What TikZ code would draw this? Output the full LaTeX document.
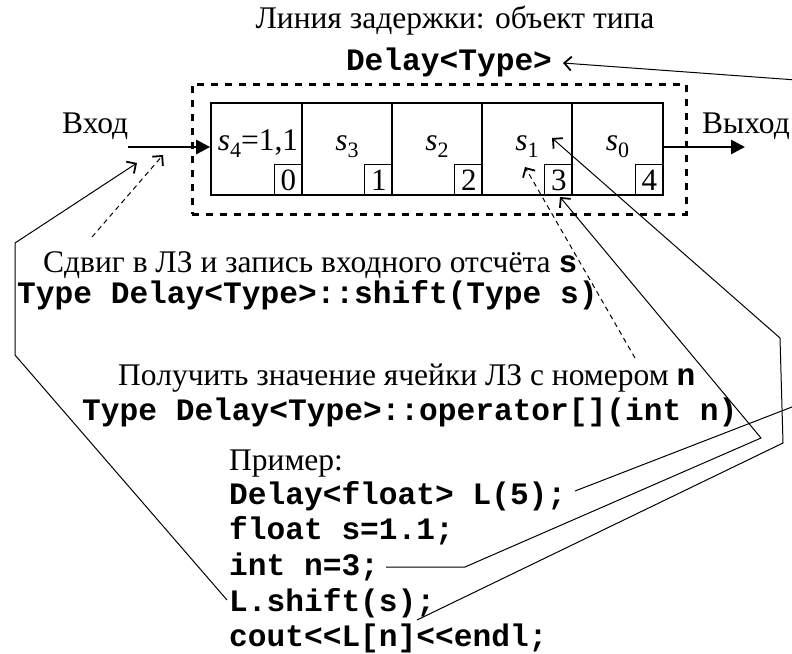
\documentclass[tikz,border=0pt]{standalone}
\usepackage{fontspec}
\setmainfont{Liberation Serif}
\setmonofont{Liberation Mono}
\usetikzlibrary{arrows.meta}
\newcommand{\cd}[1]{{\fontsize{31.2}{36}\selectfont\ttfamily\bfseries #1}}
\newcommand{\sv}[2]{{\itshape s}\raisebox{-7pt}{\fontsize{22}{22}\selectfont #1}#2}
\begin{document}
\begin{tikzpicture}[x=1pt,y=-1pt,
  txt/.style={inner sep=0pt, anchor=base west, font=\fontsize{31.5}{36}\selectfont},
  code/.style={inner sep=0pt, anchor=base west, font=\fontsize{31.2}{36}\selectfont\ttfamily\bfseries},
  cell/.style={draw, line width=2.2pt, minimum width=90.5pt, minimum height=92pt, inner sep=0pt},
  idx/.style={draw, line width=1pt, minimum width=28pt, minimum height=31pt, inner sep=0pt, anchor=south east, font=\fontsize{31}{31}\selectfont},
  lab/.style={inner sep=0pt, anchor=base, font=\fontsize{31.5}{36}\selectfont},
  bigarrow/.style={line width=2.8pt, -{Triangle[length=14pt,width=14pt]}},
  ptr/.style={line width=1pt, -{Straight Barb[length=7pt,width=14pt,line width=1.8pt]}},
  ptrdash/.style={ptr, dash pattern=on 5pt off 4pt},
  frame/.style={draw, line width=3pt, dash pattern=on 7pt off 7pt, minimum width=494pt, minimum height=130pt, inner sep=0pt}]
\useasboundingbox (0,0) rectangle (792,653);
\fill[white] (0,0) rectangle (792,653);

% titles
\node[lab] (t1) at (455,28) {Линия задержки: объект типа};
\node[code, anchor=base] (t2) at (449,70) {Delay<Type>};

% frame and cells
\node[frame] (dl) at (439,149) {};
\node[cell] (c0) at (256.5,149) {};
\node[cell] (c1) at (347,149) {};
\node[cell] (c2) at (437,149) {};
\node[cell] (c3) at (527,149) {};
\node[cell] (c4) at (617.5,149) {};
\node[idx] (n0) at (c0.south east) {0};
\node[idx] (n1) at (c1.south east) {1};
\node[idx] (n2) at (c2.south east) {2};
\node[idx] (n3) at (c3.south east) {3};
\node[idx] (n4) at (c4.south east) {4};
\node[lab] (s4) at (258,150) {\sv{4}{=1,1}};
\node[lab] (s3) at (347,150) {\sv{3}{}};
\node[lab] (s2) at (437,150) {\sv{2}{}};
\node[lab] (s1) at (527,150) {\sv{1}{}};
\node[lab] (s0) at (617.5,150) {\sv{0}{}};

% input / output
\node[txt] (vin) at (62,133) {Вход};
\node[txt] (vout) at (702,133) {Выход};
\coordinate (inS) at (128,147);
\coordinate (outE) at (745,147);
\draw[bigarrow] (inS) -- (c0.west |- inS);
\draw[bigarrow] (c4.east |- outE) -- (outE);

% descriptions
\node[txt] (d1) at (43,272) {Сдвиг в ЛЗ и запись входного отсчёта \cd{s}};
\node[code] (d1c) at (17,303) {Type Delay<Type>::shift(Type s)};
\node[txt] (d2) at (118,385) {Получить значение ячейки ЛЗ с номером \cd{n}};
\node[code] (d2c) at (82,420) {Type Delay<Type>::operator[](int n)};

% example
\node[txt] (ex) at (229,470) {Пример:};
\node[code] (e1) at (229,504) {Delay<float> L(5);};
\node[code] (e2) at (229,539) {float s=1.1;};
\node[code] (e3) at (229,575) {int n=3;};
\node[code] (e4) at (229,611) {L.shift(s);};
\node[code] (e5) at (229,646) {cout<<L[n]<<endl;};

% connector points
\coordinate (l1e) at (575,491);
\coordinate (r1) at (810,400);
\coordinate (r2) at (810,81);
\coordinate (dtip) at (563,63);
\coordinate (n3a) at (386,567);
\coordinate (n3b) at (465,567);
\coordinate (n3c) at (761,438);
\coordinate (t3) at (560,197);
\coordinate (co) at (417,620);
\coordinate (cv1) at (783,443);
\coordinate (cv2) at (780,338);
\coordinate (s1t) at (552,138);
\coordinate (ls) at (227,600);
\coordinate (lv1) at (15,355);
\coordinate (lv2) at (15,243);
\coordinate (intip) at (137,163);
\coordinate (d1s) at (92,237);
\coordinate (d1t) at (163,155);
\coordinate (d2s) at (635,358);
\coordinate (d2t) at (525,167);

\begin{scope}
\clip (0,0) rectangle (792,653);
\draw[ptr] (l1e) -- (r1) -- (r2) -- (dtip);
\end{scope}
\draw[ptr] (n3a) -- (n3b) -- (n3c) -- (t3);
\draw[ptr] (co) -- (cv1) -- (cv2) -- (s1t);
\draw[ptr] (ls) -- (lv1) -- (lv2) -- (intip);
\draw[ptrdash] (d1s) -- (d1t);
\draw[ptrdash] (d2s) -- (d2t);
\end{tikzpicture}
\end{document}
